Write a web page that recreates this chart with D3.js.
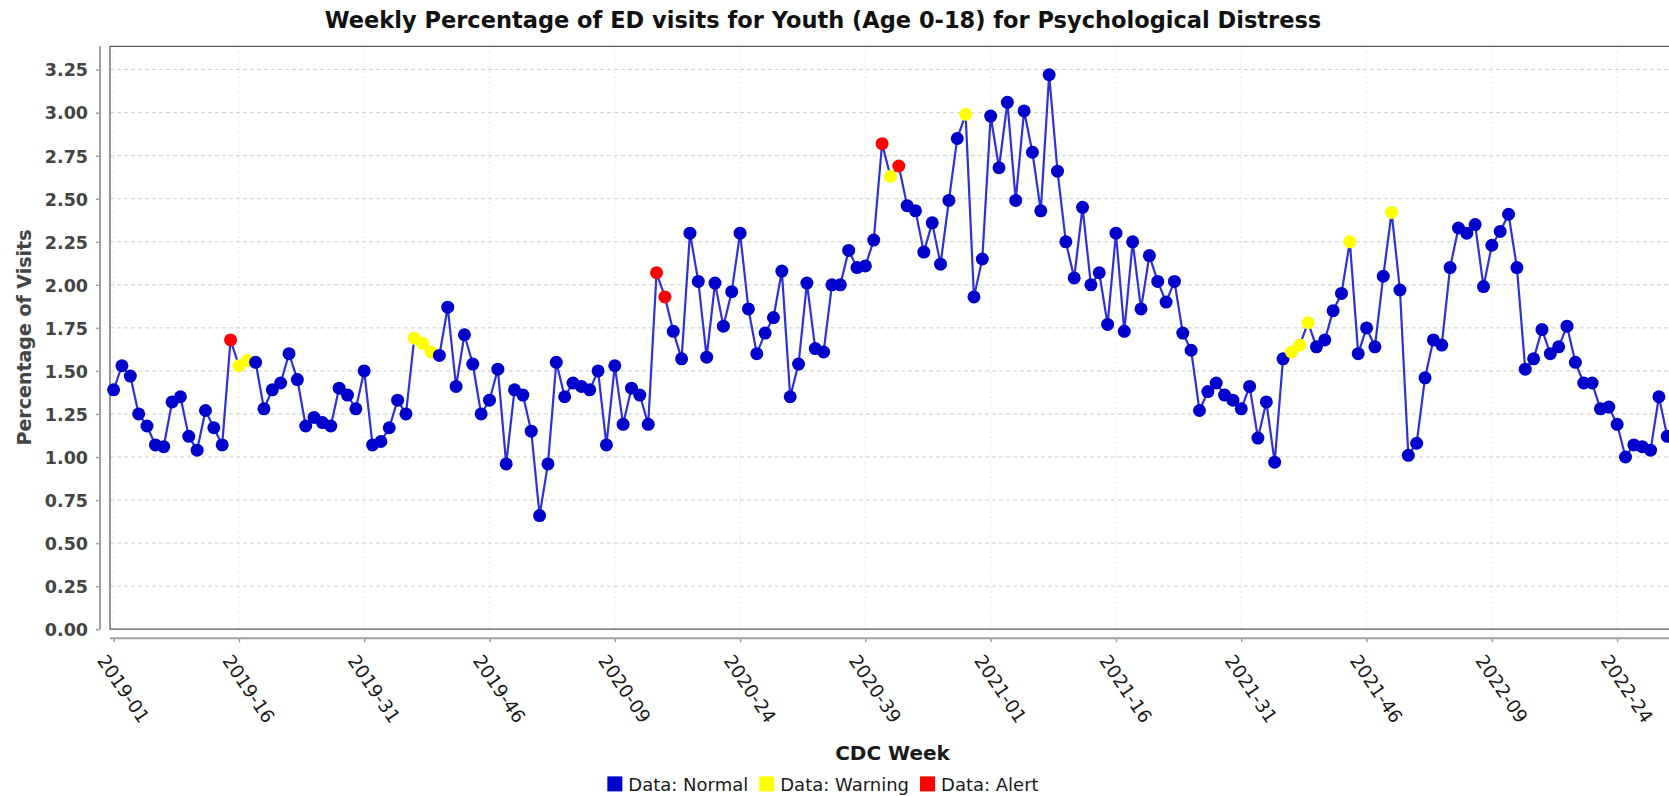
<!DOCTYPE html>
<html>
<head>
<meta charset="utf-8">
<script src="https://cdn.jsdelivr.net/npm/d3@7/dist/d3.min.js"></script>
<style>
  html, body { margin: 0; padding: 0; background: #ffffff; overflow: hidden; }
  svg { display: block; }
  text { font-family: "DejaVu Sans", sans-serif; }
</style>
</head>
<body>
<svg id="chart" width="1669" height="796"></svg>
<script>
// ---------------- DATA ----------------
const chartTitle = "Weekly Percentage of ED visits for Youth (Age 0-18) for Psychological Distress";
const xTitle = "CDC Week";
const yTitle = "Percentage of Visits";

const years = [2019, 2020, 2021, 2022];
const weeksPerYear = [52, 53, 52, 52];

const values = [
  1.39, 1.53, 1.47, 1.25, 1.18, 1.07, 1.06, 1.32, 1.35, 1.12,
  1.04, 1.27, 1.17, 1.07, 1.68, 1.53, 1.56, 1.55, 1.28, 1.39,
  1.43, 1.60, 1.45, 1.18, 1.23, 1.20, 1.18, 1.40, 1.36, 1.28,
  1.50, 1.07, 1.09, 1.17, 1.33, 1.25, 1.69, 1.66, 1.61, 1.59,
  1.87, 1.41, 1.71, 1.54, 1.25, 1.33, 1.51, 0.96, 1.39, 1.36,
  1.15, 0.66, 0.96, 1.55, 1.35, 1.43, 1.41, 1.39, 1.50, 1.07,
  1.53, 1.19, 1.40, 1.36, 1.19, 2.07, 1.93, 1.73, 1.57, 2.30,
  2.02, 1.58, 2.01, 1.76, 1.96, 2.30, 1.86, 1.60, 1.72, 1.81,
  2.08, 1.35, 1.54, 2.01, 1.63, 1.61, 2.00, 2.00, 2.20, 2.10,
  2.11, 2.26, 2.82, 2.63, 2.69, 2.46, 2.43, 2.19, 2.36, 2.12,
  2.49, 2.85, 2.99, 1.93, 2.15, 2.98, 2.68, 3.06, 2.49, 3.01,
  2.77, 2.43, 3.22, 2.66, 2.25, 2.04, 2.45, 2.00, 2.07, 1.77,
  2.30, 1.73, 2.25, 1.86, 2.17, 2.02, 1.90, 2.02, 1.72, 1.62,
  1.27, 1.38, 1.43, 1.36, 1.33, 1.28, 1.41, 1.11, 1.32, 0.97,
  1.57, 1.61, 1.65, 1.78, 1.64, 1.68, 1.85, 1.95, 2.25, 1.60,
  1.75, 1.64, 2.05, 2.42, 1.97, 1.01, 1.08, 1.46, 1.68, 1.65,
  2.10, 2.33, 2.30, 2.35, 1.99, 2.23, 2.31, 2.41, 2.10, 1.51,
  1.57, 1.74, 1.60, 1.64, 1.76, 1.55, 1.43, 1.43, 1.28, 1.29,
  1.19, 1.00, 1.07, 1.06, 1.04, 1.35, 1.12
];

const alertIdx = [14, 65, 66, 92, 94];
const warningIdx = [15, 16, 36, 37, 38, 93, 102, 141, 142, 143, 148, 153];

const tickLabels = ["2019-01", "2019-16", "2019-31", "2019-46", "2020-09", "2020-24",
  "2020-39", "2021-01", "2021-16", "2021-31", "2021-46", "2022-09", "2022-24"];
const yTicks = [0, 0.25, 0.5, 0.75, 1.0, 1.25, 1.5, 1.75, 2.0, 2.25, 2.5, 2.75, 3.0, 3.25];

const legendLabels = ["Data: Normal", "Data: Warning", "Data: Alert"];
const statusColors = { normal: "#0000CC", warning: "#FFFF00", alert: "#FF0000" };

// ---------------- BUILD ----------------
const categories = [];
years.forEach((yr, k) => {
  for (let w = 1; w <= weeksPerYear[k]; w++) categories.push(yr + "-" + String(w).padStart(2, "0"));
});
const weeks = categories.slice(0, values.length);

const points = values.map((v, i) => ({
  week: weeks[i],
  value: v,
  status: alertIdx.includes(i) ? "alert" : (warningIdx.includes(i) ? "warning" : "normal")
}));

const W = 1669, H = 796;
const plot = { left: 110, top: 46.3, bottom: 629.2, right: 1675 };
const step = 8.353;

const svg = d3.select("#chart");
svg.append("rect").attr("width", W).attr("height", H).attr("fill", "#ffffff");

const x = d3.scalePoint()
  .domain(weeks)
  .range([113.6, 113.6 + step * (weeks.length - 1)]);

const y = d3.scaleLinear()
  .domain([0, 3.25])
  .range([plot.bottom, 69.6]);

// vertical faint gridlines at category ticks
svg.append("g").selectAll("line").data(tickLabels).join("line")
  .attr("x1", d => x(d)).attr("x2", d => x(d))
  .attr("y1", plot.top).attr("y2", plot.bottom)
  .attr("stroke", "#e4e4e4").attr("stroke-width", 1).attr("stroke-dasharray", "2,3");

// horizontal dashed gridlines
svg.append("g").selectAll("line").data(yTicks.filter(d => d > 0)).join("line")
  .attr("x1", plot.left).attr("x2", W)
  .attr("y1", d => y(d)).attr("y2", d => y(d))
  .attr("stroke", "#cfcfcf").attr("stroke-width", 1).attr("stroke-dasharray", "4,3");

// plot border (top, left, bottom)
svg.append("path")
  .attr("d", `M${W},${plot.top}H${plot.left}V${plot.bottom}H${W}`)
  .attr("fill", "none").attr("stroke", "#5a5a5a").attr("stroke-width", 1.3);

// Y axis
const yAxis = d3.axisLeft(y).tickValues(yTicks).tickFormat(d3.format(".2f"))
  .tickSize(4).tickSizeOuter(0).tickPadding(8);
const gy = svg.append("g").attr("transform", "translate(100,0)").call(yAxis);
gy.select(".domain").remove();
gy.append("line").attr("x1", 0).attr("x2", 0).attr("y1", plot.top).attr("y2", plot.bottom)
  .attr("stroke", "#a0a0a0").attr("stroke-width", 2);
gy.selectAll(".tick line").attr("stroke", "#a0a0a0").attr("stroke-width", 1.5);
gy.selectAll(".tick text")
  .attr("fill", "#444444").attr("font-size", "17.5px").attr("font-weight", "bold")
  .attr("font-family", "DejaVu Sans").attr("dy", "0.36em");

// X axis
const xAxisY = 638.3;
const xAxis = d3.axisBottom(x).tickValues(tickLabels).tickSize(4).tickSizeOuter(0);
const gx = svg.append("g").attr("transform", `translate(0,${xAxisY})`).call(xAxis);
gx.select(".domain").remove();
gx.append("line").attr("x1", plot.left).attr("x2", W).attr("y1", 0).attr("y2", 0)
  .attr("stroke", "#a0a0a0").attr("stroke-width", 2);
gx.selectAll(".tick line").attr("stroke", "#a0a0a0").attr("stroke-width", 1.5);
gx.selectAll(".tick text")
  .attr("x", 0).attr("y", 0).attr("dy", null)
  .attr("text-anchor", "start")
  .attr("transform", `translate(-17.7,${660.5 - xAxisY}) rotate(56)`)
  .attr("fill", "#1a1a1a").attr("font-size", "18.5px").attr("font-weight", "normal")
  .attr("font-family", "DejaVu Sans");

// data line
const line = d3.line().x(d => x(d.week)).y(d => y(d.value));
svg.append("path").datum(points)
  .attr("d", line)
  .attr("fill", "none").attr("stroke", "#2f2fdc").attr("stroke-width", 2.2)
  .attr("stroke-linejoin", "round");

// data points
svg.append("g").selectAll("circle").data(points).join("circle")
  .attr("cx", d => x(d.week)).attr("cy", d => y(d.value)).attr("r", 6.5)
  .attr("fill", d => statusColors[d.status]);

// titles
svg.append("text").attr("x", 823).attr("y", 28)
  .attr("text-anchor", "middle").attr("font-size", "22.5px").attr("font-weight", "bold")
  .attr("fill", "#111111").text(chartTitle);

svg.append("text").attr("x", 892.5).attr("y", 759.5)
  .attr("text-anchor", "middle").attr("font-size", "20px").attr("font-weight", "bold")
  .attr("fill", "#1a1a1a").text(xTitle);

svg.append("text").attr("transform", "translate(31,337.5) rotate(-90)")
  .attr("text-anchor", "middle").attr("font-size", "19px").attr("font-weight", "bold")
  .attr("fill", "#444444").text(yTitle);

// legend
const legendColors = [statusColors.normal, statusColors.warning, statusColors.alert];
const lg = svg.append("g");
const sq = 15, gapText = 6, gapItem = 11, legendBaseline = 790.7;
let cursor = 0;
legendLabels.forEach((lbl, i) => {
  const g = lg.append("g");
  g.append("rect").attr("x", 0).attr("y", legendBaseline - 14.3).attr("width", sq).attr("height", sq)
    .attr("fill", legendColors[i]);
  const t = g.append("text").attr("x", sq + gapText).attr("y", legendBaseline)
    .attr("font-size", "18px").attr("fill", "#1a1a1a").text(lbl);
  const w = sq + gapText + t.node().getComputedTextLength();
  g.attr("transform", `translate(${cursor},0)`);
  cursor += w + gapItem;
});
const totalW = cursor - gapItem;
lg.attr("transform", `translate(${823 - totalW / 2},0)`);
</script>
</body>
</html>
